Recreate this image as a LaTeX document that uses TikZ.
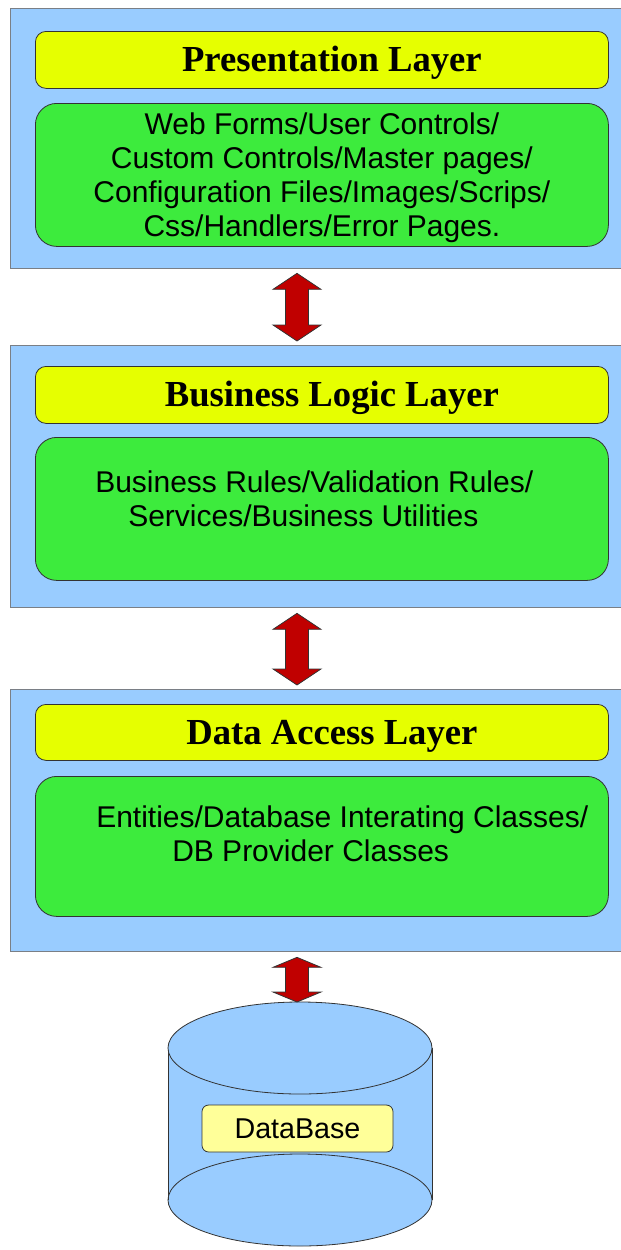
\documentclass[tikz,border=0pt]{standalone}
\usepackage{fontspec}
\setmainfont{Liberation Sans}
\newfontfamily\titlefont{Liberation Serif}
\usetikzlibrary{calc}
\definecolor{panelblue}{HTML}{99CCFF}
\definecolor{panelline}{HTML}{7A7F86}
\definecolor{titleyellow}{HTML}{E6FF00}
\definecolor{boxgreen}{HTML}{3DEB3D}
\definecolor{arrowred}{HTML}{C00000}
\definecolor{labelyellow}{HTML}{FFFF99}
\definecolor{edge}{HTML}{333333}
\newcommand\dblarrow[3]{%
  \draw[blk] let \p1=(#1), \p2=(#2) in
    (\p1) -- (\x1+18pt,\y1-#3) -- (\x1+8.6pt,\y1-#3) -- (\x1+8.6pt,\y2+#3)
    -- (\x1+18pt,\y2+#3) -- (\x1,\y2) -- (\x1-18pt,\y2+#3) -- (\x1-8.6pt,\y2+#3)
    -- (\x1-8.6pt,\y1-#3) -- (\x1-18pt,\y1-#3) -- cycle;}
\tikzset{
  panel/.style={draw=panelline, line width=1pt, fill=panelblue, anchor=north west,
    minimum width=480pt, inner sep=0pt},
  titlebox/.style={draw=edge, line width=0.6pt, fill=titleyellow, rounded corners=8pt,
    anchor=north west, minimum width=429.75pt, inner sep=0pt,
    text height=21pt, text depth=3pt,
    font=\titlefont\bfseries\fontsize{27.5}{30}\selectfont},
  greenbox/.style={draw=edge, line width=0.6pt, fill=boxgreen, rounded corners=16pt,
    anchor=north west, minimum width=429.75pt, inner sep=0pt, align=center,
    font=\fontsize{22.5}{25.5}\selectfont},
  greentext/.style={anchor=north west, inner sep=0pt, align=left,
    font=\fontsize{22.5}{25.5}\selectfont},
  blk/.style={fill=arrowred, draw=edge, line width=0.6pt, line join=miter},
  cyl/.style={fill=panelblue, draw=edge, line width=0.6pt},
  dblabel/.style={draw=edge, line width=0.6pt, fill=labelyellow, rounded corners=5pt,
    minimum width=143.25pt, minimum height=35.25pt, inner sep=0pt,
    font=\fontsize{21.5}{24}\selectfont}
}
\begin{document}
\begin{tikzpicture}[x=0.75pt, y=-0.75pt]
\useasboundingbox (0,0) rectangle (621,1250);
\clip (0,0) rectangle (621,1250);
% panels
\node[panel, minimum height=195pt] (p1) at (10,8) {};
\node[panel, minimum height=196.5pt] (p2) at (10,345) {};
\node[panel, minimum height=196.5pt] (p3) at (10,689) {};
% presentation layer
\node[titlebox, minimum height=42.75pt] (y1) at (35,31) {\hspace*{15pt}Presentation Layer};
\node[greenbox, minimum height=107.25pt] (g1) at (35,103) {};
\node[align=center, inner sep=0pt, font=\fontsize{22.5}{25.5}\selectfont]
  (t1) at ($(g1.center)+(0,3)$)
  {Web Forms/User Controls/\\Custom Controls/Master pages/\\Configuration Files/Images/Scrips/\\Css/Handlers/Error Pages.};
% business logic layer
\node[titlebox, minimum height=42.75pt] (y2) at (35,366) {\hspace*{15pt}Business Logic Layer};
\node[greenbox, minimum height=107.25pt] (g2) at (35,437) {};
\node[greentext] (t2) at (95,470)
  {Business Rules/Validation Rules/\\\hspace*{24.75pt}Services/Business Utilities};
% data access layer
\node[titlebox, minimum height=42pt] (y3) at (35,704) {\hspace*{15pt}Data Access Layer};
\node[greenbox, minimum height=105pt] (g3) at (35,776) {};
\node[greentext] (t3) at (96,805)
  {Entities/Database Interating Classes/\\\hspace*{57pt}DB Provider Classes};
% database cylinder
\fill[panelblue] (168,1048) rectangle (432,1200);
\draw[cyl] (300,1200) ellipse [x radius=132, y radius=46];
\draw[edge, line width=0.6pt] (168,1048) -- (168,1200) (432,1048) -- (432,1200);
\draw[cyl] (300,1048) ellipse [x radius=132, y radius=46];
\coordinate (cyltop) at (297,1002);
\node[dblabel] (db) at (297.5,1128.5) {DataBase};
% arrows
\coordinate (ax) at (297,0);
\coordinate (a1t) at ($(p1.south -| ax)+(0,4)$);
\coordinate (a1b) at ($(p2.north -| ax)+(0,-4)$);
\coordinate (a2t) at ($(p2.south -| ax)+(0,5)$);
\coordinate (a2b) at ($(p3.north -| ax)+(0,-4)$);
\coordinate (a3t) at ($(p3.south -| ax)+(0,5)$);
\dblarrow{a1t}{a1b}{12pt}
\dblarrow{a2t}{a2b}{12pt}
\dblarrow{a3t}{cyltop}{7.5pt}
\end{tikzpicture}
\end{document}
